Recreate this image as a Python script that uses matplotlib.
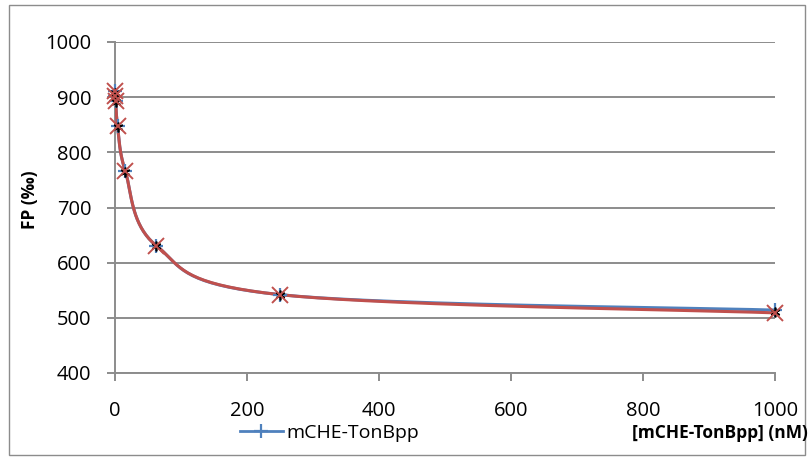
import numpy as np
import matplotlib.pyplot as plt
from matplotlib.patches import Rectangle
from matplotlib.lines import Line2D

# concentration series (nM) and FP readings (per mille)
conc = [0.06, 0.24, 0.98, 3.9, 15.6, 62.5, 250, 1000]
fp_blue = [912, 902, 893, 848, 766, 631, 542, 514]
fp_red = [912, 902, 893, 848, 766, 631, 542, 509]
fp_black = [908, 900, 891, 846, 764, 630, 541, 511]

x_lim = (0, 1000)
y_lim = (400, 1000)
x_ticks = [0, 200, 400, 600, 800, 1000]
y_ticks = [400, 500, 600, 700, 800, 900, 1000]


def smooth(xs, ys, sx, sy, n=40):
    """Catmull-Rom curve through the points, computed in scaled (pixel-like) space."""
    p = np.column_stack((np.asarray(xs, float) * sx, np.asarray(ys, float) * sy))
    p = np.vstack((p[0], p, p[-1]))
    out = []
    for i in range(1, len(p) - 2):
        p0, p1, p2, p3 = p[i - 1], p[i], p[i + 1], p[i + 2]
        t = np.linspace(0, 1, n)[:, None]
        c = 0.5 * ((2 * p1) + (-p0 + p2) * t + (2 * p0 - 5 * p1 + 4 * p2 - p3) * t**2
                   + (-p0 + 3 * p1 - 3 * p2 + p3) * t**3)
        out.append(c)
    c = np.vstack(out)
    return c[:, 0] / sx, c[:, 1] / sy


plt.rcParams['font.family'] = ['Open Sans', 'DejaVu Sans']

fig = plt.figure(figsize=(8.11, 4.63), dpi=100)
ax = fig.add_axes([115 / 811, 1 - 373 / 463, 660 / 811, 331 / 463])

# scale factors so the spline is built in display proportions
sx = 660 / (x_lim[1] - x_lim[0])
sy = 331 / (y_lim[1] - y_lim[0])

bx, by = smooth(conc, fp_blue, sx, sy)
rx, ry = smooth(conc, fp_red, sx, sy)
ax.plot(bx, by, color='#4F81BD', lw=2.2, zorder=3)
ax.plot(rx, ry, color='#C0504D', lw=2.2, zorder=4)
ax.plot(conc, fp_blue, ls='none', marker='+', color='#4F81BD', ms=10, mew=1.6, zorder=5, clip_on=False)
ax.plot(conc, fp_black, ls='none', marker=(6, 2, 0), color='black', ms=7, mew=1.2, zorder=5, clip_on=False)
ax.plot(conc, fp_red, ls='none', marker='x', color='#C0504D', ms=12, mew=1.4, zorder=6, clip_on=False)

ax.set_xlim(*x_lim)
ax.set_ylim(*y_lim)
ax.set_xticks(x_ticks)
ax.set_yticks(y_ticks)
ax.grid(axis='y', color='#8c8c8c', lw=1.4)
ax.set_axisbelow(True)
for s in ['top', 'right']:
    ax.spines[s].set_visible(False)
for s in ['left', 'bottom']:
    ax.spines[s].set_color('#8c8c8c')
    ax.spines[s].set_linewidth(1.4)
ax.tick_params(colors='#8c8c8c', labelcolor='black', labelsize=14.5, length=6, width=1.4)
ax.tick_params(axis='x', pad=14)
ax.tick_params(axis='y', pad=11)

fig.text(30 / 811, 1 - 200 / 463, 'FP (‰)', rotation=90, ha='center', va='center',
         fontsize=12.5, fontweight='bold')
fig.text(808 / 811, 1 - 433 / 463, '[mCHE-TonBpp] (nM)', ha='right', va='center',
         fontsize=12.5, fontweight='bold')

h = Line2D([], [], color='#4F81BD', lw=2, marker='+', ms=10, mew=1.6)
fig.legend([h], ['mCHE-TonBpp'], loc='center left', bbox_to_anchor=(230 / 811, 1 - 433 / 463),
           frameon=False, fontsize=14, handlelength=2.2, handletextpad=0.2, borderpad=0)

fig.patches.append(Rectangle((9 / 811, 1 - 455 / 463), 796 / 811, 450 / 463,
                             transform=fig.transFigure, fill=False, ec='#8c8c8c', lw=1))

fig.savefig('out.png', dpi=100)
